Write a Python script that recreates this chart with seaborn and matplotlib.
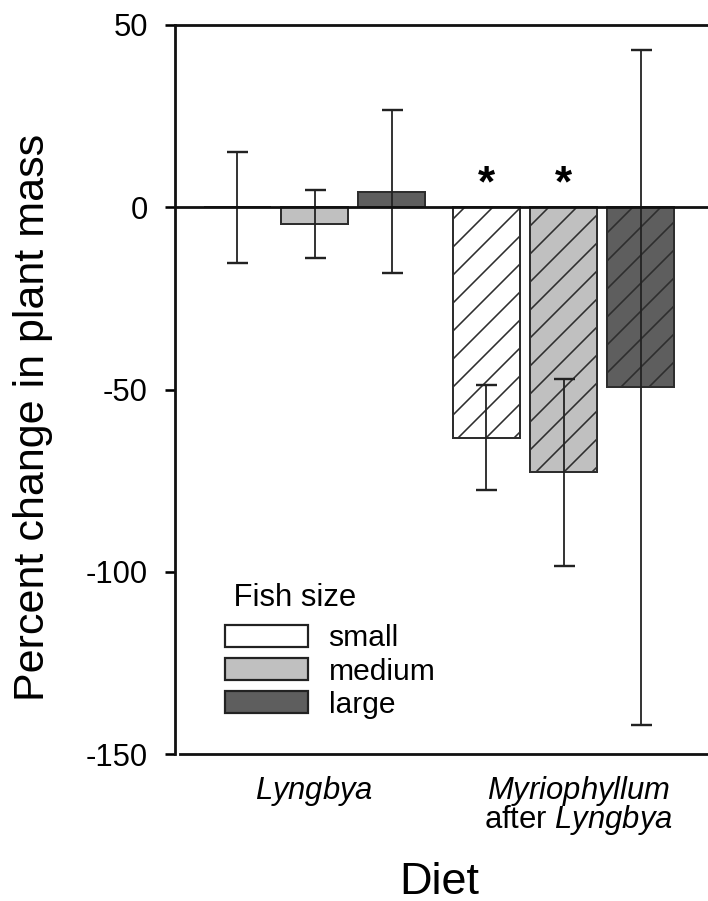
import pandas as pd
import seaborn as sns
import matplotlib
matplotlib.use("Agg")
from matplotlib import pyplot as plt
from matplotlib.transforms import ScaledTranslation

# values (percent change, mean and error)
diets = ["Lyngbya", "Myriophyllum after Lyngbya"]
sizes = ["small", "medium", "large"]
lyngbya_mean = [0.0, -4.6, 4.3]
lyngbya_err = [15.2, 9.3, 22.3]
myrio_mean = [-63.2, -72.7, -49.4]
myrio_err = [14.3, 25.7, 92.6]
signif = [True, True, False]  # asterisks on Myriophyllum bars
tick_labels = ["$\\mathit{Lyngbya}$", "$\\mathit{Myriophyllum}$\nafter $\\mathit{Lyngbya}$"]
colors = ["#ffffff", "#c0c0c0", "#5e5e5e"]

df = pd.DataFrame({
    "diet": [diets[0]] * 3 + [diets[1]] * 3,
    "size": sizes * 2,
    "change": lyngbya_mean + myrio_mean,
    "err": lyngbya_err + myrio_err,
})

DPI = 168
def pt(px):
    return px * 72.0 / DPI

sns.set_style("ticks")
plt.rcParams["font.family"] = ["Liberation Sans", "DejaVu Sans"]
plt.rcParams["mathtext.fontset"] = "custom"
plt.rcParams["mathtext.rm"] = "Liberation Sans"
plt.rcParams["mathtext.it"] = "Liberation Sans:italic"
plt.rcParams["axes.unicode_minus"] = False
plt.rcParams["hatch.linewidth"] = pt(1.6)
plt.rcParams["hatch.color"] = "#222222"
for k in ["text.color", "axes.labelcolor", "xtick.color", "ytick.color"]:
    plt.rcParams[k] = "black"

fig = plt.figure(figsize=(708 / DPI, 901 / DPI), dpi=DPI)
ax = fig.add_axes([175 / 708, 1 - 754 / 901, 1 - 175 / 708, (754 - 25) / 901])

sns.barplot(data=df, x="diet", y="change", hue="size", order=diets, hue_order=sizes,
            palette=colors, width=0.928, gap=0.142, errorbar=None,
            edgecolor="#2e2e2e", linewidth=pt(2.0), ax=ax, zorder=2)

# hatch the second diet, error bars on every bar
bar_sets = list(ax.containers)
for i, cont in enumerate(bar_sets):
    sub = df[df["size"] == sizes[i]].set_index("diet").loc[diets]
    xs = []
    for j, bar in enumerate(cont):
        xs.append(bar.get_x() + bar.get_width() / 2)
        if j == 1:
            bar.set_hatch("//")
    ax.errorbar(xs, sub["change"].values, yerr=sub["err"].values, fmt="none",
                ecolor="#222222", elinewidth=pt(1.8), capsize=pt(10.5),
                capthick=pt(2.4), zorder=3)
    if signif[i]:
        ax.text(xs[1], 6.0, "*", ha="center", va="center", fontsize=pt(44),
                fontweight="bold", zorder=4)

ax.axhline(0, color="#111111", lw=pt(2.8), zorder=4)

ax.set_ylim(-150, 50)
ax.set_yticks([-150, -100, -50, 0, 50])
ax.set_xlim((175 - 314.5) / 249, (708 - 314.5) / 249)
ax.set_xticks([0, 1])
ax.set_xticklabels(tick_labels, fontsize=pt(31), linespacing=0.8)
ax.tick_params(axis="x", length=0, pad=pt(20))
ax.tick_params(axis="y", length=pt(10), width=pt(2.6), labelsize=pt(31), pad=pt(17))
lab = ax.get_xticklabels()[1]
lab.set_transform(lab.get_transform() + ScaledTranslation(15 / DPI, 0, fig.dpi_scale_trans))

for side in ["left", "top", "bottom"]:
    ax.spines[side].set_linewidth(pt(2.8))
    ax.spines[side].set_color("#111111")
ax.spines["right"].set_visible(False)
ax.spines["bottom"].set_bounds((180 - 314.5) / 249, (708 - 314.5) / 249)

ax.set_ylabel("Percent change in plant mass", fontsize=pt(43), va="center")
ax.yaxis.set_label_coords(-0.266, 0.461)
ax.set_xlabel("Diet", fontsize=pt(45), va="center")
ax.xaxis.set_label_coords(0.495, -0.176)

sns.move_legend(ax, "upper left", bbox_to_anchor=(0.094, 0.234), frameon=False,
                title=" Fish size", fontsize=pt(30), title_fontsize=pt(31),
                alignment="left", handlelength=2.75, handleheight=0.72,
                labelspacing=0.17, handletextpad=0.7, borderpad=0, borderaxespad=0)
leg = ax.get_legend()
leg._legend_box.sep = pt(11)  # a bit more room under the title
for h in leg.legend_handles:
    h.set_edgecolor("#222222")
    h.set_linewidth(pt(2.2))

fig.savefig("out.png", dpi=DPI)
